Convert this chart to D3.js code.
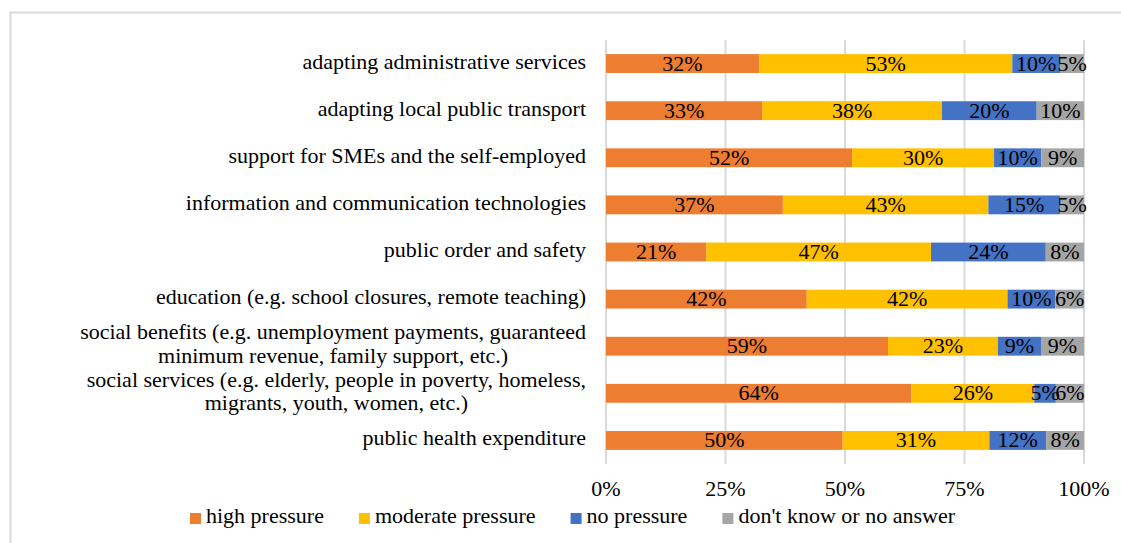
<!DOCTYPE html>
<html>
<head>
<meta charset="utf-8">
<script src="https://cdn.jsdelivr.net/npm/d3@7"></script>
<style>
    body { margin: 0; background: #fff; }
    svg text { font-family: "Liberation Serif", "Times New Roman", serif; fill: #000; }
</style>
</head>
<body>
<div id="chart"></div>
<script>
// Chart data
const categories = [
    'adapting administrative services',
    'adapting local public transport',
    'support for SMEs and the self-employed',
    'information and communication technologies',
    'public order and safety',
    'education (e.g. school closures, remote teaching)',
    'social benefits (e.g. unemployment payments, guaranteed|minimum revenue, family support, etc.)',
    'social services (e.g. elderly, people in poverty, homeless,|migrants, youth, women, etc.)',
    'public health expenditure'
];
const highPressure = [32, 33, 52, 37, 21, 42, 59, 63.9, 50];
const moderatePressure = [53, 38, 30, 43, 47, 42, 23, 25.7, 31];
const noPressure = [10, 20, 10, 15, 24, 10, 9, 4.5, 12];
const dontKnow = [5, 10, 9, 5, 8, 6, 9, 5.9, 8];
const seriesNames = ['high pressure', 'moderate pressure', 'no pressure', "don't know or no answer"];
const seriesColors = ['#ED7D31', '#FFC000', '#4472C4', '#A5A5A5'];
const xTicks = [0, 0.25, 0.5, 0.75, 1];

function drawChart() {
    const W = 1121, H = 543;
    const fontSize = 22;

    const svg = d3.select('#chart')
        .append('svg')
        .attr('width', W)
        .attr('height', H);

    // Light frame around the chart area
    svg.append('rect')
        .attr('x', 10.5)
        .attr('y', 12.5)
        .attr('width', 1200)
        .attr('height', 600)
        .attr('fill', 'none')
        .attr('stroke', '#d9d9d9')
        .attr('stroke-width', 2);

    const keys = ['high', 'moderate', 'none', 'dk'];
    const rows = categories.map((c, i) => ({
        category: c,
        high: highPressure[i],
        moderate: moderatePressure[i],
        none: noPressure[i],
        dk: dontKnow[i]
    }));

    const stacked = d3.stack()
        .keys(keys)
        .offset(d3.stackOffsetExpand)(rows);

    const x = d3.scaleLinear()
        .domain([0, 1])
        .range([606, 1084]);

    const y = d3.scaleBand()
        .domain(categories)
        .range([40, 464])
        .paddingInner(0.6)
        .paddingOuter(0.3);

    // Vertical grid lines
    svg.append('g')
        .selectAll('line')
        .data(xTicks)
        .enter()
        .append('line')
        .attr('x1', d => x(d))
        .attr('x2', d => x(d))
        .attr('y1', 40)
        .attr('y2', 464)
        .attr('stroke', '#d9d9d9')
        .attr('stroke-width', 2);

    // X tick labels
    svg.append('g')
        .selectAll('text')
        .data(xTicks)
        .enter()
        .append('text')
        .attr('x', d => x(d))
        .attr('y', 496)
        .attr('text-anchor', 'middle')
        .style('font-size', fontSize + 'px')
        .text(d => d3.format('.0%')(d));

    // Category labels (split on |)
    const catLabels = svg.append('g')
        .selectAll('text')
        .data(categories)
        .enter()
        .append('text')
        .attr('text-anchor', 'end')
        .style('font-size', fontSize + 'px');

    catLabels.each(function(d) {
        const lines = d.split('|');
        const cy = y(d) + y.bandwidth() / 2;
        const lh = 23.5;
        const top = cy - (lines.length - 1) * lh / 2 - 2;
        const t = d3.select(this);
        lines.forEach((ln, j) => {
            t.append('tspan')
                .attr('x', 586)
                .attr('y', top + j * lh + 7)
                .text(ln);
        });
    });
    // second lines of wrapped labels are centred under the first line
    catLabels.each(function() {
        const spans = d3.select(this).selectAll('tspan').nodes();
        if (spans.length > 1) {
            const firstW = spans[0].getComputedTextLength();
            d3.select(spans[1])
                .attr('x', 586 - firstW / 2)
                .attr('text-anchor', 'middle');
        }
    });

    // Stacked bars
    const layers = svg.append('g')
        .selectAll('g')
        .data(stacked)
        .enter()
        .append('g')
        .attr('fill', (d, i) => seriesColors[i]);

    layers.selectAll('rect')
        .data(d => d)
        .enter()
        .append('rect')
        .attr('x', d => x(d[0]))
        .attr('y', d => y(d.data.category))
        .attr('width', d => x(d[1]) - x(d[0]))
        .attr('height', y.bandwidth());

    // Value labels
    const labels = svg.append('g');
    stacked.forEach(layer => {
        labels.selectAll(null)
            .data(layer)
            .enter()
            .append('text')
            .attr('x', d => (x(d[0]) + x(d[1])) / 2)
            .attr('y', d => y(d.data.category) + y.bandwidth() / 2 + 7)
            .attr('text-anchor', 'middle')
            .style('font-size', fontSize + 'px')
            .text(d => Math.round(d.data[layer.key]) + '%');
    });

    // Legend
    const legend = svg.append('g');
    let lx = 190;
    seriesNames.forEach((name, i) => {
        legend.append('rect')
            .attr('x', lx)
            .attr('y', 513)
            .attr('width', 11)
            .attr('height', 11)
            .attr('fill', seriesColors[i]);
        const t = legend.append('text')
            .attr('x', lx + 16)
            .attr('y', 523)
            .style('font-size', fontSize + 'px')
            .text(name);
        lx += 16 + t.node().getComputedTextLength() + 35;
    });
}

drawChart();
</script>
</body>
</html>
